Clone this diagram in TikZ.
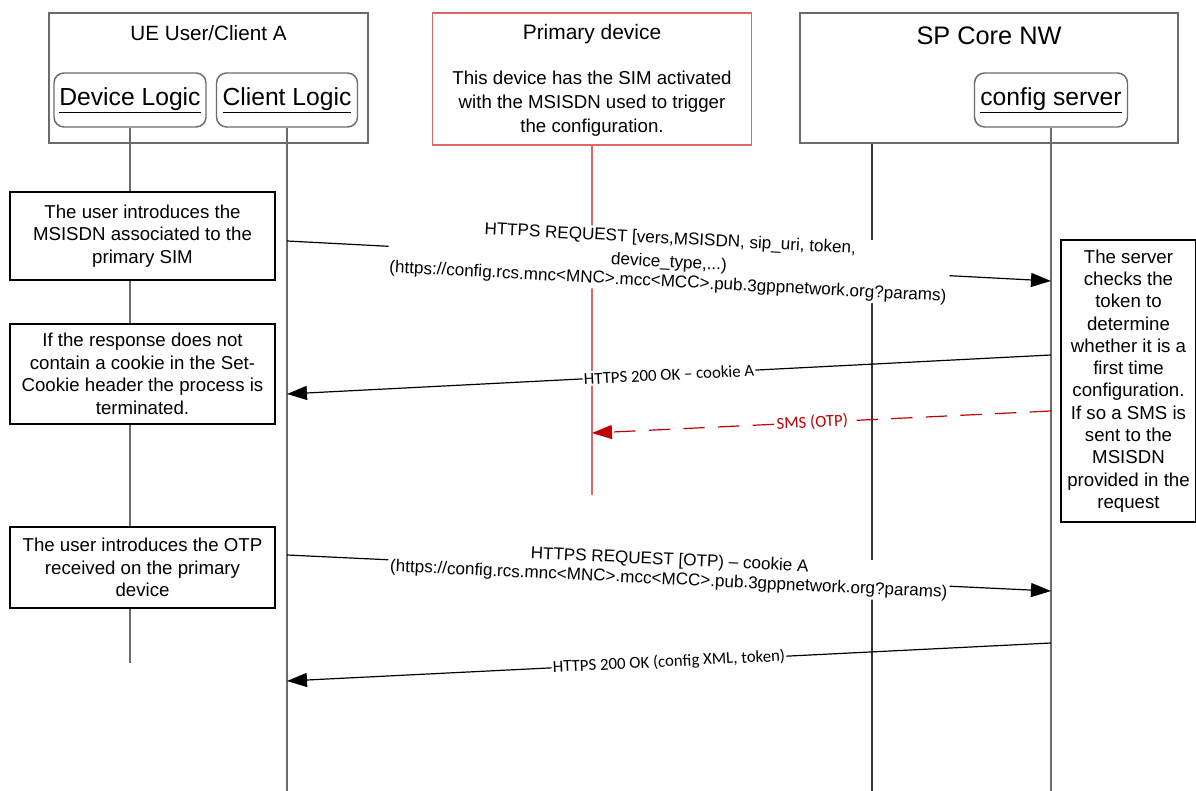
\documentclass[tikz,border=0pt]{standalone}
\usepackage{fontspec}
\setmainfont{Liberation Sans}
\newfontfamily\calfont{Carlito}
\usetikzlibrary{positioning,arrows.meta}
\definecolor{lnGray}{HTML}{6B6B6B}
\definecolor{boxRed}{HTML}{E06666}
\definecolor{smsRed}{HTML}{C00000}
\tikzset{grp/.style={draw=lnGray,line width=1.3pt,inner sep=0pt},
  logic/.style={draw=lnGray,line width=1.1pt,rounded corners=7.5pt,minimum height=40.5pt,inner sep=0pt,font=\fontsize{18.5}{22}\selectfont},
  note/.style={draw=black,line width=0.9pt,fill=white,align=center,inner sep=0pt,font=\fontsize{14}{16.9}\selectfont},
  life/.style={draw=lnGray,line width=1.4pt},
  msg/.style={sloped,fill=white,inner sep=1.5pt,align=center,font=\fontsize{12.8}{14.6}\selectfont},
  ans/.style={sloped,fill=white,inner sep=1pt,font=\calfont\fontsize{12.6}{14}\selectfont}}

\begin{document}
\begin{tikzpicture}[x=0.75pt,y=-0.75pt,>={Triangle[length=15pt,width=10.5pt]}]
    \useasboundingbox (0,0) rectangle (1196,791);

    % top boxes
    \node[grp,minimum width=239.25pt,minimum height=97.5pt] (ue) at (208.5,78) {};
    \node[font=\fontsize{15.5}{18}\selectfont] (ueT) at (208.5,33) {UE User/Client A};
    \node[logic,minimum width=114pt] (dev) at (130,100) {\underline{Device Logic}};
    \node[logic,minimum width=105.75pt] (cli) at (287,100) {\underline{Client Logic}};

    \node[grp,draw=boxRed,minimum width=239.25pt,minimum height=99pt] (prim) at (592,79) {};
    \node[font=\fontsize{15.7}{18}\selectfont] (primT) at (592,34) {Primary device};
    \node[align=center,font=\fontsize{14}{18}\selectfont] (primD) at (592,104) {This device has the SIM activated\\ with the MSISDN used to trigger\\ the configuration.};

    \node[grp,minimum width=283.5pt,minimum height=97.5pt] (core) at (989,78) {};
    \node[font=\fontsize{19}{22}\selectfont] (coreT) at (989,36) {SP Core NW};
    \node[logic,minimum width=114.75pt] (cfg) at (1051,100) {\underline{config server}};

    % lifelines
    \coordinate (devEnd) at (130,663);
    \coordinate (cliEnd) at (287,791);
    \coordinate (primEnd) at (592,495);
    \coordinate (coreEnd) at (872,791);
    \coordinate (cfgEnd) at (1051,791);
    \draw [life] (dev) -- (devEnd);
    \draw [life] (cli) -- (cliEnd);
    \draw [life,draw=boxRed] (prim) -- (primEnd);
    \draw [life,draw=black!80,line width=1.1pt] (core.south -| coreEnd) -- (coreEnd);
    \draw [life] (cfg) -- (cfgEnd);

    % notes
    \node[note,minimum width=198.75pt,minimum height=66pt] (n1) at (142.5,236) {The user introduces the\\ MSISDN associated to the\\ primary SIM};
    \node[note,minimum width=198.75pt,minimum height=75pt] (n2) at (142.5,374) {If the response does not\\ contain a cookie in the Set-\\ Cookie header the process is\\ terminated.};
    \node[note,minimum width=198.75pt,minimum height=60.75pt] (n3) at (142.5,567.5) {The user introduces the OTP\\ received on the primary\\ device};
    \node[note,minimum width=101.25pt,minimum height=211.5pt,font=\fontsize{14}{16.7}\selectfont] (n4) at (1128.5,381) {The server\\ checks the\\ token to\\ determine\\ whether it is a\\ first time\\ configuration.\\ If so a SMS is\\ sent to the\\ MSISDN\\ provided in the\\ request};

    % messages
    \coordinate (c1) at (287,241);
    \coordinate (s1) at (1051,281);
    \coordinate (s2) at (1051,355);
    \coordinate (c2) at (287,394);
    \coordinate (s3) at (1051,411);
    \coordinate (p3) at (592,433);
    \coordinate (c4) at (287,555);
    \coordinate (s4) at (1051,591);
    \coordinate (s5) at (1051,643);
    \coordinate (c5) at (287,681);

    \draw [->,line width=0.9pt] (c1) to node[msg]{HTTPS REQUEST [vers,MSISDN, sip\_uri, token,\\[3pt] device\_type,...)\\ (https://config.rcs.mnc<MNC>.mcc<MCC>.pub.3gppnetwork.org?params)} (s1);
    \draw [->,line width=0.9pt] (s2) to node[ans]{HTTPS 200 OK – cookie A} (c2);
    \draw [->,smsRed,line width=0.9pt,dash pattern=on 16pt off 10pt] (s3) to node[ans,pos=0.52,text=smsRed]{SMS (OTP)} (p3);
    \draw [->,line width=0.9pt] (c4) to node[msg,yshift=2pt]{HTTPS REQUEST [OTP) – cookie A\\ (https://config.rcs.mnc<MNC>.mcc<MCC>.pub.3gppnetwork.org?params)} (s4);
    \draw [->,line width=0.9pt] (s5) to node[ans]{HTTPS 200 OK (config XML, token)} (c5);
\end{tikzpicture}
\end{document}
